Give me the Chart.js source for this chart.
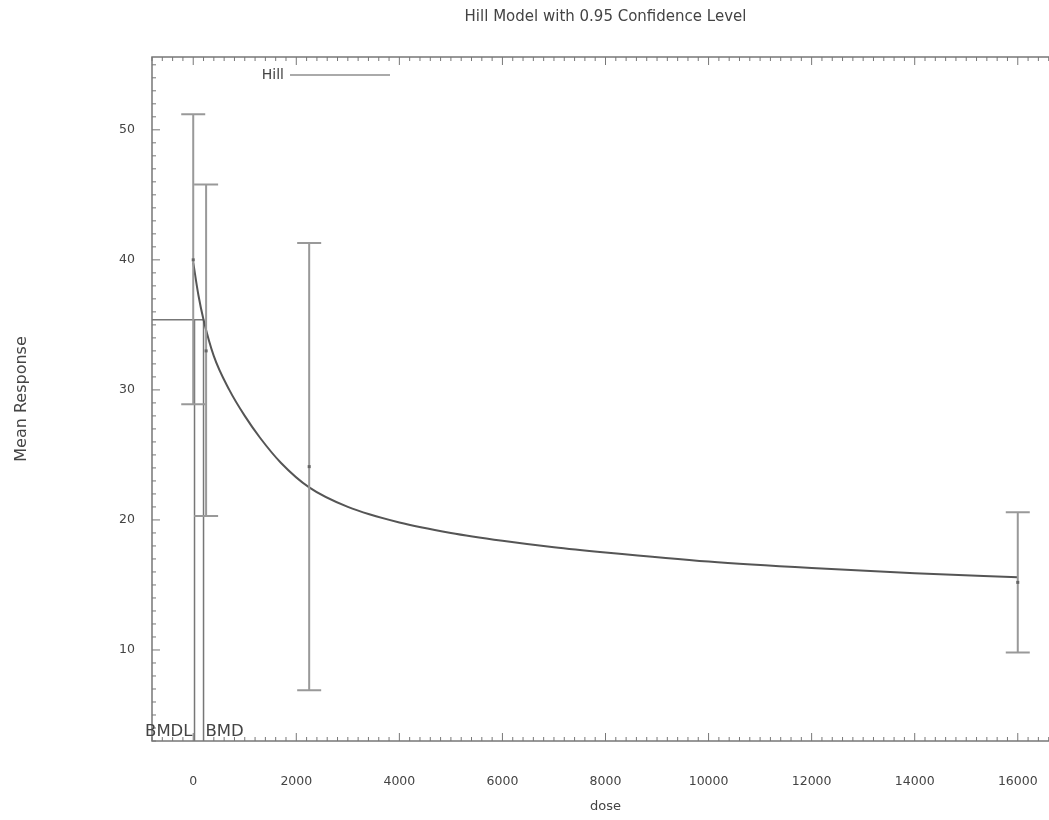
<!DOCTYPE html>
<html>
<head>
<meta charset="utf-8">
<script src="https://cdn.jsdelivr.net/npm/chart.js@4.4.0/dist/chart.umd.min.js"></script>
<style>
  html, body { margin: 0; background: #fff; overflow: hidden; }
  #wrap { width: 1090px; height: 820px; }
</style>
</head>
<body>
<div id="wrap"><canvas id="hillChart" width="1090" height="820"></canvas></div>
<script>
// Hill model fit
const curveDose = [0, 100, 200, 400, 700, 1000, 1300, 1700, 2250, 3000, 4000, 5000, 6000, 7000, 8000, 10000, 12000, 14000, 16000];
const curveResp = [39.8, 37.3, 35.4, 32.6, 30.0, 28.0, 26.3, 24.4, 22.5, 21.0, 19.8, 19.0, 18.4, 17.9, 17.5, 16.8, 16.3, 15.9, 15.6];

// observed means with 0.95 confidence bars
const barDose = [0, 250, 2250, 16000];
const barMean = [40.0, 33.0, 24.1, 15.2];
const barLower = [28.9, 20.3, 6.9, 9.8];
const barUpper = [51.2, 45.8, 41.3, 20.6];

// benchmark dose markers
const bmrLevel = 35.4;
const bmdDose = 200;
const bmdlDose = 25;

const xTicks = [0, 2000, 4000, 6000, 8000, 10000, 12000, 14000, 16000];
const yTicks = [10, 20, 30, 40, 50];
const xRange = [-800, 16800];
const yRange = [3, 55.6];

const INK = "#444";
const FAMILY = "'DejaVu Sans', Verdana, sans-serif";
const tickFont = { family: FAMILY, size: 12.5 };

const gnuplotFrame = {
  id: "gnuplotFrame",
  beforeDatasetsDraw(chart) {
    const { ctx, chartArea: a, scales: { x, y } } = chart;
    ctx.save();
    ctx.strokeStyle = "#777";
    ctx.lineWidth = 1.5;
    ctx.strokeRect(a.left, a.top, a.right - a.left, a.bottom - a.top);
    ctx.lineWidth = 1;
    ctx.beginPath();
    for (let v = Math.ceil(yRange[0]); v <= yRange[1]; v += 1) {
      const py = y.getPixelForValue(v);
      const len = v % 10 === 0 ? 8 : 4;
      ctx.moveTo(a.left, py); ctx.lineTo(a.left + len, py);
      ctx.moveTo(a.right, py); ctx.lineTo(a.right - len, py);
    }
    for (let v = -800; v <= xRange[1]; v += 200) {
      const px = x.getPixelForValue(v);
      const len = v % 2000 === 0 ? 8 : 4;
      ctx.moveTo(px, a.bottom); ctx.lineTo(px, a.bottom - len);
      ctx.moveTo(px, a.top); ctx.lineTo(px, a.top + len);
    }
    ctx.stroke();
    ctx.restore();
  },
  afterDatasetsDraw(chart) {
    const { ctx, chartArea: a, scales: { x, y } } = chart;
    ctx.save();

    // confidence bars
    ctx.strokeStyle = "#999";
    ctx.lineWidth = 2;
    barDose.forEach((d, i) => {
      const px = x.getPixelForValue(d);
      const top = y.getPixelForValue(barUpper[i]);
      const bot = y.getPixelForValue(barLower[i]);
      ctx.beginPath();
      ctx.moveTo(px, top); ctx.lineTo(px, bot);
      ctx.moveTo(px - 12, top); ctx.lineTo(px + 12, top);
      ctx.moveTo(px - 12, bot); ctx.lineTo(px + 12, bot);
      ctx.stroke();
      ctx.fillStyle = "#666";
      ctx.fillRect(px - 1.5, y.getPixelForValue(barMean[i]) - 1.5, 3, 3);
    });

    // BMD / BMDL labels
    ctx.fillStyle = INK;
    ctx.font = `16.5px ${FAMILY}`;
    ctx.textBaseline = "bottom";
    ctx.textAlign = "right";
    ctx.fillText("BMDL", x.getPixelForValue(bmdlDose) - 2, a.bottom - 1);
    ctx.textAlign = "left";
    ctx.fillText("BMD", x.getPixelForValue(bmdDose) + 2, a.bottom - 1);

    // legend inside the frame, gnuplot style
    const ly = a.top + 18;
    ctx.font = `14px ${FAMILY}`;
    ctx.textAlign = "right";
    ctx.textBaseline = "middle";
    ctx.fillText("Hill", a.left + 132, ly);
    ctx.strokeStyle = "#aaa";
    ctx.lineWidth = 2;
    ctx.beginPath();
    ctx.moveTo(a.left + 138, ly); ctx.lineTo(a.left + 238, ly);
    ctx.stroke();
    ctx.restore();
  }
};

new Chart(document.getElementById("hillChart"), {
  type: "scatter",
  data: {
    datasets: [
      {
        label: "Hill",
        data: curveDose.map((d, i) => ({ x: d, y: curveResp[i] })),
        showLine: true,
        borderColor: "#555",
        borderWidth: 2,
        pointRadius: 0,
        cubicInterpolationMode: "monotone"
      },
      {
        label: "BMD",
        data: [{ x: xRange[0], y: bmrLevel }, { x: bmdDose, y: bmrLevel }, { x: bmdDose, y: yRange[0] }],
        showLine: true,
        borderColor: "#777",
        borderWidth: 1.5,
        pointRadius: 0
      },
      {
        label: "BMDL",
        data: [{ x: bmdlDose, y: bmrLevel }, { x: bmdlDose, y: yRange[0] }],
        showLine: true,
        borderColor: "#777",
        borderWidth: 1.5,
        pointRadius: 0
      }
    ]
  },
  options: {
    responsive: false,
    animation: false,
    layout: { padding: { left: 0, right: 31, top: 0, bottom: 0 } },
    plugins: {
      legend: { display: false },
      tooltip: { enabled: false },
      title: {
        display: true,
        fullSize: false,
        text: "Hill Model with 0.95 Confidence Level",
        color: INK,
        font: { family: FAMILY, size: 15, weight: "normal" },
        padding: { top: 8, bottom: 31 }
      }
    },
    scales: {
      x: {
        type: "linear",
        min: xRange[0],
        max: xRange[1],
        afterBuildTicks: s => { s.ticks = xTicks.map(v => ({ value: v })); },
        afterFit: s => { s.height = 79; },
        grid: { display: false },
        border: { display: false },
        ticks: { color: INK, font: tickFont, padding: 25, maxRotation: 0, callback: v => String(v) },
        title: { display: true, text: "dose", color: INK, font: { family: FAMILY, size: 13 }, padding: { top: 0, bottom: 6 } }
      },
      y: {
        type: "linear",
        min: yRange[0],
        max: yRange[1],
        afterBuildTicks: s => { s.ticks = yTicks.map(v => ({ value: v })); },
        afterFit: s => { s.width = 152; },
        grid: { display: false },
        border: { display: false },
        ticks: { color: INK, font: tickFont, padding: 9, callback: v => String(v) },
        title: { display: true, text: "Mean Response", color: INK, font: { family: FAMILY, size: 16 }, padding: { top: 12, bottom: 0 } }
      }
    }
  },
  plugins: [gnuplotFrame]
});
</script>
</body>
</html>
